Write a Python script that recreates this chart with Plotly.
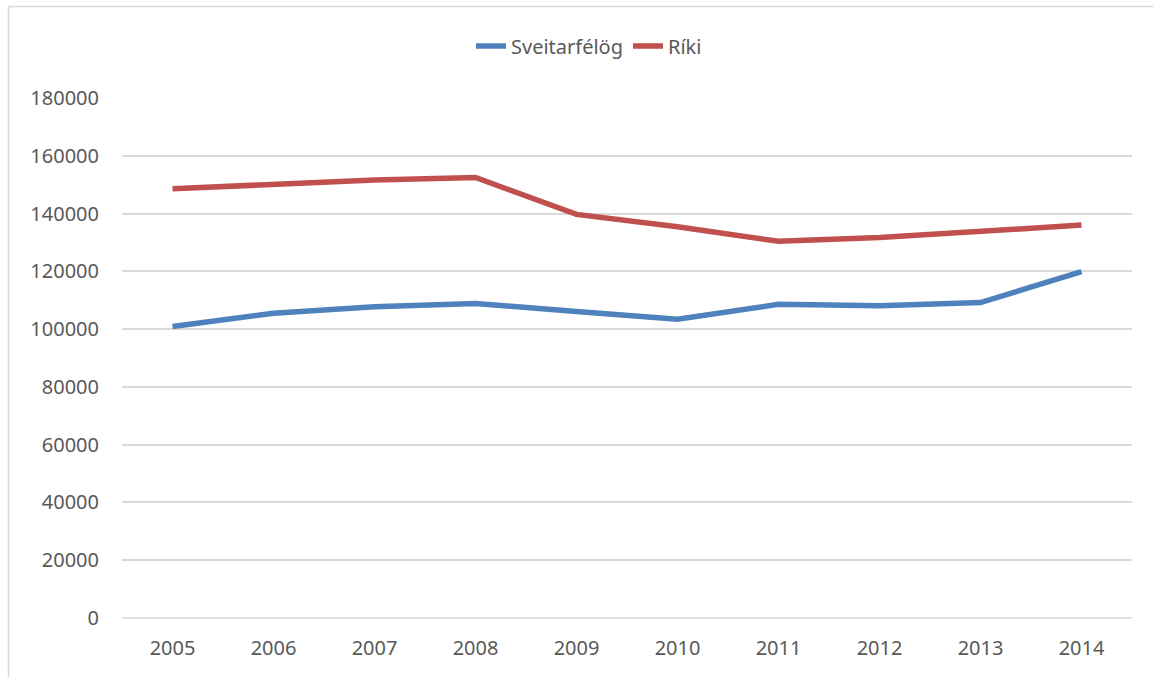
import plotly.graph_objects as go

years = ["2005", "2006", "2007", "2008", "2009", "2010", "2011", "2012", "2013", "2014"]
sveitarfelog = [100900, 105500, 107700, 108900, 106100, 103400, 108600, 108100, 109200, 119900]
riki = [148600, 150200, 151600, 152500, 139700, 135400, 130400, 131700, 133900, 136000]

W, H = 1153, 677
L, R, T, B = 122, 21, 98, 59
pw, ph = W - L - R, H - T - B

def px_x(x):
    return (x - L) / pw

def px_y(y):
    return (H - B - y) / ph

font = dict(family="Noto Sans, Open Sans, sans-serif", size=20, color="#595959")

fig = go.Figure()
fig.add_trace(go.Scatter(x=years, y=sveitarfelog, mode="lines", name="Sveitarfélög",
                         line=dict(color="#4F81BD", width=5.5)))
fig.add_trace(go.Scatter(x=years, y=riki, mode="lines", name="Ríki",
                         line=dict(color="#C0504D", width=5.5)))

fig.update_layout(
    width=W, height=H,
    margin=dict(l=L, r=R, t=T, b=B),
    paper_bgcolor="white", plot_bgcolor="white",
    font=font,
    showlegend=True,
    legend=dict(orientation="h", x=px_x(589), xanchor="center", y=px_y(46), yanchor="middle",
                font=font, bgcolor="rgba(0,0,0,0)", tracegroupgap=0, itemwidth=30),
    xaxis=dict(type="category", range=[-0.5, 9.5], showgrid=False, zeroline=False,
               showline=False, ticks="", ticklabelstandoff=16, tickfont=font),
    yaxis=dict(range=[0, 180000], dtick=20000, showgrid=True, gridcolor="#D9D9D9",
               gridwidth=1.5, zeroline=False, showline=False, ticks="",
               ticklabelstandoff=22, tickfont=font, tickformat="d"),
    shapes=[dict(type="rect", xref="paper", yref="paper",
                 x0=px_x(8.5), x1=px_x(1170), y0=px_y(6.5), y1=px_y(700),
                 line=dict(color="#D9D9D9", width=1.5), fillcolor="rgba(0,0,0,0)", layer="below"),
            dict(type="line", xref="paper", yref="paper", x0=0, x1=1, y0=0, y1=0,
                 line=dict(color="#D9D9D9", width=1.5), layer="below")],
)

fig.write_html("out.html", config={"displayModeBar": False},
               post_script="document.body.style.margin='0';document.body.style.overflow='hidden';")
